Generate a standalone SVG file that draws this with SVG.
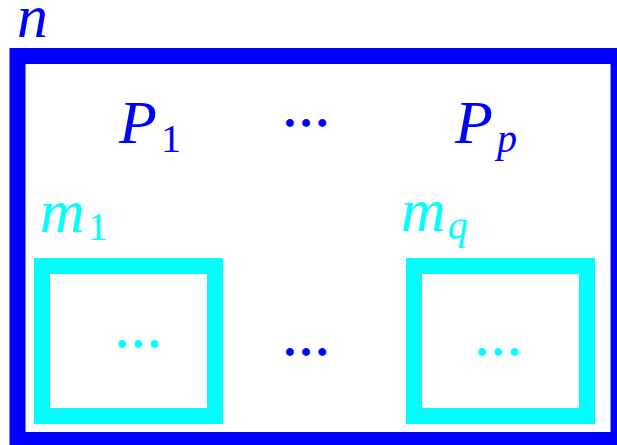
<svg xmlns="http://www.w3.org/2000/svg" width="617" height="445" viewBox="0 0 617 445">
<style>
.b{fill:#0000FF}
.c{fill:#00FFFF}
.t{font-family:"Liberation Serif","Times New Roman",serif;font-style:italic;font-size:62px}
.s{font-family:"Liberation Serif","Times New Roman",serif;font-style:normal;font-size:40px}
.si{font-family:"Liberation Serif","Times New Roman",serif;font-style:italic;font-size:40px}
.d{font-family:"Liberation Serif","Times New Roman",serif;font-size:48px;font-weight:bold;text-anchor:middle}
</style>
<rect width="617" height="445" fill="#fff"/>
<g id="outer">
<rect x="17.5" y="56" width="601" height="384" fill="none" stroke="#0000FF" stroke-width="16"/>
<text class="t b" x="17" y="37">n</text>
</g>
<g id="P1"><text class="t b" x="119" y="143">P<tspan class="s" dx="4" dy="8.5">1</tspan></text></g>
<g id="Pdots"><text class="d b" x="306" y="127">…</text></g>
<g id="Pp"><text class="t b" x="455" y="143">P<tspan class="si" dx="4" dy="8.5">p</tspan></text></g>
<g id="m1">
<rect x="42" y="266" width="173" height="150" fill="none" stroke="#00FFFF" stroke-width="16"/>
<text class="t c" x="40" y="231.5">m<tspan class="s" dx="3" dy="8.5">1</tspan></text>
<text class="d c" x="138" y="348">…</text>
</g>
<g id="mdots"><text class="d b" x="306" y="356">…</text></g>
<g id="mq">
<rect x="414" y="266" width="173" height="150" fill="none" stroke="#00FFFF" stroke-width="16"/>
<text class="t c" x="401" y="230.5">m<tspan class="si" dx="2" dy="8.5">q</tspan></text>
<text class="d c" x="498" y="356">…</text>
</g>
<g id="connectors"></g>
</svg>
